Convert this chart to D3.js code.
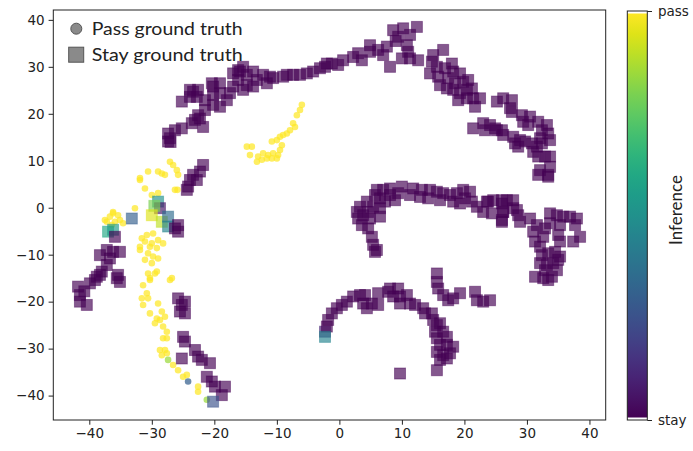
<!DOCTYPE html>
<html>
<head>
<meta charset="utf-8">
<script src="https://cdn.jsdelivr.net/npm/d3@7"></script>
<style>
  html, body { margin: 0; padding: 0; background: #fff; }
  svg { display: block; }
</style>
</head>
<body>
<svg id="chart" width="693" height="451"></svg>
<script>
// [x, y, inference] ; inference 0 = stay, 1 = pass
const stayPoints = [
  // upper arc
  [-27.1,14.8,0],[-27.4,15.8,0],[-26.3,16.5,0],[-25.2,16.9,0],[-27.0,14.0,0],[-27.4,14.1,0],[-23.6,18.0,0],[-23.1,18.7,0],
  [-21.8,17.2,0],[-22.6,19.7,0],[-22.3,19.0,0],[-21.5,20.8,0],[-20.2,21.9,0],[-19.1,21.5,0],[-18.0,22.9,0],[-17.5,24.4,0],
  [-17.0,25.8,0],[-16.2,27.2,0],[-15.9,29.0,0],[-15.4,30.0,0],[-17.0,28.6,0],[-25.2,22.6,0],[-23.9,23.6,0],[-22.6,25.1,0],
  [-22.8,23.6,0],[-21.5,22.9,0],[-20.4,26.5,0],[-19.1,26.5,0],[-19.1,24.4,0],[-20.2,24.0,0],[-23.9,25.1,0],[-23.4,24.7,0],
  [-20.2,25.8,0],[-14.8,26.1,0],[-14.8,28.3,0],[-13.8,29.0,0],[-13.2,27.2,0],[-12.2,28.3,0],[-11.1,27.9,0],[-10.6,27.6,0],
  [-11.6,26.5,0],[-13.8,25.8,0],[-15.4,25.1,0],[-16.2,29.3,0],
  [-8.4,28.3,0],[-7.4,28.3,0],[-6.3,28.3,0],[-5.2,28.6,0],[-4.2,29.0,0],[-3.1,29.7,0],[-2.0,30.7,0],[-9.0,27.9,0],
  [-2.3,30.0,0],[-1.2,30.7,0],[-0.2,30.4,0],[0.6,31.4,0],[2.2,32.1,0],[3.0,32.9,0],[3.6,31.4,0],[4.9,34.6,0],
  [4.9,33.2,0],[6.2,33.6,0],[7.6,34.3,0],[8.1,30.0,0],[7.0,32.5,0],[8.6,37.8,0],[10.2,38.2,0],[12.4,38.5,0],
  [9.4,36.4,0],[11.3,36.8,0],[10.0,31.8,0],[11.0,33.2,0],[11.3,31.8,0],[12.6,31.4,0],[10.8,34.6,0],[9.0,35.5,0],
  [15.0,32.5,0],[16.6,33.6,0],[14.8,31.1,0],[15.6,30.0,0],[14.5,28.6,0],[15.8,27.9,0],[16.9,29.7,0],[18.0,30.7,0],
  [18.2,29.0,0],[19.3,28.6,0],[17.4,27.6,0],[16.1,26.1,0],[17.2,25.4,0],[18.5,26.5,0],[19.8,26.8,0],[20.6,27.2,0],
  [18.2,25.1,0],[19.3,24.4,0],[20.4,25.1,0],[21.2,25.4,0],[19.0,22.9,0],[20.4,23.3,0],[21.4,23.3,0],[22.5,23.3,0],
  [21.7,21.5,0],
  [25.2,22.6,0],[26.2,23.3,0],[27.6,22.9,0],[27.3,21.2,0],[27.6,20.4,0],[29.2,19.7,0],[29.4,18.3,0],[30.5,19.4,0],
  [30.2,17.6,0],[31.8,18.3,0],[33.2,17.6,0],[32.4,16.5,0],[33.4,15.8,0],[33.7,14.4,0],[32.1,14.8,0],[32.4,13.7,0],
  [31.6,13.0,0],[31.0,11.9,0],[31.8,10.9,0],[32.9,10.9,0],[33.7,10.9,0],[32.1,8.0,0],[33.4,7.0,0],[33.7,8.7,0],
  [31.8,7.0,0],[33.4,6.6,0],
  [21.4,16.9,0],[23.0,18.0,0],[24.1,17.6,0],[23.3,16.5,0],[24.9,16.9,0],[26.0,16.5,0],[26.2,15.5,0],[27.8,15.1,0],
  [28.1,13.7,0],[28.9,14.4,0],[29.7,14.1,0],[28.6,13.0,0],[30.8,13.7,0],[25.2,16.5,0],
  // middle arc
  [5.7,-9.4,0],[5.4,-7.9,0],[5.2,-6.2,0],[4.6,-4.4,0],[3.6,-3.7,0],[3.0,-2.3,0],[2.8,-0.9,0],[3.3,0.2,0],
  [4.4,1.3,0],[5.7,2.7,0],[6.0,3.8,0],[7.0,3.8,0],[8.1,4.1,0],[10.0,4.5,0],[9.4,3.1,0],[6.5,2.0,0],
  [5.4,0.2,0],[4.6,-0.9,0],[6.5,-0.1,0],[6.5,-1.9,0],[4.9,-2.3,0],[3.8,-1.6,0],[7.3,1.3,0],[8.9,1.6,0],
  [8.1,2.7,0],[6.0,-9.0,0],
  [11.8,4.1,0],[13.2,3.8,0],[14.5,3.8,0],[15.6,3.4,0],[16.6,3.1,0],[17.7,2.7,0],[18.8,3.1,0],[19.8,3.8,0],
  [20.9,3.4,0],[20.1,2.0,0],[21.2,1.3,0],[22.0,0.2,0],[23.0,-0.9,0],[23.6,1.3,0],[24.6,1.6,0],[26.0,0.9,0],
  [26.2,-0.9,0],[26.0,-3.0,0],[26.8,1.6,0],[27.8,-0.1,0],[11.3,2.7,0],[12.9,2.3,0],[14.2,2.0,0],[16.1,1.6,0],
  [18.2,1.3,0],[19.3,0.9,0],
  [23.8,1.3,0],[26.0,1.6,0],[27.8,1.6,0],[28.4,-0.5,0],[28.6,-1.6,0],[26.2,-0.9,0],[26.0,-2.6,0],[24.4,-1.2,0],
  [30.5,-2.3,0],[31.6,-3.7,0],[31.0,-5.1,0],[31.3,-7.2,0],[32.6,-6.2,0],[32.9,-4.4,0],[33.7,-1.2,0],[34.8,-1.6,0],
  [35.8,-1.9,0],[36.9,-1.9,0],[38.0,-2.3,0],[37.7,-3.7,0],[35.3,-3.7,0],[33.7,-3.3,0],[35.0,-5.8,0],[35.3,-7.2,0],
  [38.5,-6.2,0],[37.4,-7.2,0],[32.4,-10.1,0],[33.4,-9.7,0],[34.5,-9.4,0],[35.3,-10.4,0],[32.1,-11.8,0],[33.2,-12.2,0],
  [34.2,-11.8,0],[35.0,-11.1,0],[32.9,-13.3,0],[31.3,-14.7,0],[32.6,-15.0,0],[34.0,-14.7,0],[34.8,-13.3,0],[28.9,-3.0,0],
  [32.1,-8.3,0],[33.4,-15.4,0],
  // lower arc
  [-2.3,-26.4,0.1],[-2.0,-25.3,0],[-1.8,-23.9,0],[-1.2,-22.5,0],[-0.4,-21.4,0],[0.4,-20.7,0],[1.2,-20.0,0],[2.2,-18.9,0],
  [3.3,-18.6,0],[4.1,-18.6,0],[3.8,-20.4,0],[4.4,-21.4,0],[5.2,-20.4,0],[6.2,-18.2,0],[6.2,-20.7,0],[7.8,-17.9,0],
  [8.1,-17.2,0],[9.4,-17.2,0],[8.6,-18.9,0],[9.7,-18.9,0],[9.7,-20.4,0],[10.8,-18.6,0],[11.3,-20.4,0],[12.1,-20.7,0],
  [13.4,-21.4,0],[13.7,-22.5,0],[14.8,-22.5,0],[15.0,-23.9,0],[15.6,-25.0,0],[16.1,-24.6,0],[15.3,-26.4,0],[16.6,-26.4,0],
  [17.2,-27.5,0],[15.6,-27.8,0],[16.1,-29.2,0],[17.2,-29.2,0],[18.2,-29.6,0],[15.6,-30.7,0],[16.6,-31.4,0],[17.7,-31.0,0],
  [16.1,-32.4,0],[17.2,-32.1,0],[15.6,-34.6,0],[9.7,-35.3,0],[-2.3,-27.5,0.45],
  [15.6,-14.0,0],[15.6,-15.8,0],[15.8,-17.2,0],[16.6,-18.6,0],[17.4,-19.7,0],[18.2,-19.3,0],[19.3,-18.2,0],[21.7,-17.9,0],
  [22.0,-19.7,0],[23.0,-20.0,0],[24.1,-19.7,0],
  // left side
  [-21.8,9.1,0],[-22.3,7.7,0],[-23.4,7.0,0],[-23.9,5.9,0],[-24.2,4.5,0],[-24.4,3.8,0],[-22.8,5.9,0],
  [-29.0,1.3,0.5],[-28.7,-0.1,0.05],[-29.6,0.4,0.8],[-30.0,-1.6,0.95],[-28.4,-3.0,0.9],[-27.4,-1.9,0.35],[-27.4,-4.0,0.45],
  [-26.3,-4.4,0],[-25.8,-5.1,0],[-25.8,-3.7,0],[-33.2,-2.3,0.3],[-37.0,-5.1,0.6],[-36.2,-4.7,0.55],[-35.9,-6.2,0],
  [-38.3,-10.1,0],[-37.2,-9.0,0],[-36.2,-9.4,0],[-35.1,-9.4,0],[-36.7,-10.8,0],[-37.2,-12.2,0],[-38.0,-13.6,0],[-38.8,-14.7,0],
  [-35.4,-14.3,0],[-41.8,-16.8,0],[-41.5,-18.6,0],[-41.5,-20.0,0],[-40.4,-20.7,0],[-39.9,-16.1,0],[-39.1,-15.4,0],[-38.3,-14.3,0],
  [-35.6,-15.0,0],[-35.1,-15.8,0],[-40.8,-17.8,0],
  [-25.8,-19.3,0],[-25.2,-20.7,0],[-24.7,-20.0,0],[-25.5,-22.1,0],[-24.7,-22.5,0],[-25.0,-27.5,0],[-24.7,-28.5,0],[-23.1,-30.3,0],
  [-25.2,-32.1,0],[-22.6,-31.7,0],[-22.0,-32.4,0],[-20.7,-33.1,0],[-21.2,-36.0,0],[-20.4,-37.0,0],[-19.9,-38.1,0],[-18.3,-38.1,0],
  [-18.8,-39.9,0],[-20.2,-41.3,0.25]
];

const passPoints = [
  [-6.0,21.9,1],[-6.3,20.8,1],[-6.8,19.7,1],[-7.4,18.0,1],[-7.1,17.2,1],[-7.9,16.5,1],[-8.4,15.8,1],[-9.0,15.5,1],
  [-9.5,15.1,1],[-10.0,14.4,1],[-10.8,14.1,1],[-9.2,13.3,1],[-9.5,12.3,1],[-9.8,11.2,1],[-10.6,11.6,1],[-11.4,11.2,1],
  [-12.2,11.6,1],[-13.0,10.9,1],[-13.2,9.8,1],[-12.4,10.2,1],[-11.6,10.5,1],[-10.8,10.5,1],[-10.0,10.5,1],[-14.3,11.2,1],
  [-14.8,13.0,1],[-14.0,13.0,1],
  [-31.9,5.9,1],[-30.6,7.7,1],[-31.1,4.1,1],[-30.0,2.7,1],[-29.0,3.1,1],[-29.0,7.7,1],[-28.4,7.3,1],[-27.9,7.0,1],
  [-27.1,9.8,1],[-26.6,9.1,1],[-26.0,8.0,1],[-25.8,7.0,1],[-26.3,3.8,1],[-25.9,3.8,1],[-31.9,6.3,1],
  [-32.7,-0.1,1],[-36.2,-0.9,1],[-35.4,-1.6,1],[-36.7,-1.9,1],[-37.2,-3.0,1],[-35.9,-3.0,1],[-35.1,-2.6,1],[-34.6,-3.3,1],
  [-36.4,-3.7,1],[-37.5,-2.6,1],[-36.2,-1.2,1],
  [-29.8,-5.5,1],[-30.8,-5.8,1],[-31.6,-6.5,1],[-31.1,-7.2,1],[-30.0,-7.6,1],[-29.0,-6.9,1],[-28.2,-7.6,1],[-31.9,-8.3,1],
  [-30.3,-8.3,1],[-29.2,-8.6,1],[-31.9,-9.0,1],[-30.6,-9.7,1],[-29.8,-10.4,1],[-29.0,-10.8,1],[-31.1,-11.1,1],[-30.0,-11.8,1],
  [-30.6,-14.0,1],[-29.2,-13.6,1],[-30.3,-15.0,1],[-26.8,-15.0,1],[-29.5,-14.0,1],[-27.1,-15.4,1],[-30.3,-15.4,1],[-31.4,-16.5,1],
  [-30.8,-18.2,1],[-31.6,-19.3,1],[-30.6,-19.3,1],[-31.4,-20.7,1],[-29.0,-20.4,1],[-30.3,-22.5,1],[-29.2,-23.6,1],[-28.4,-22.1,1],
  [-27.9,-23.2,1],[-28.7,-23.9,1],[-29.5,-24.6,1],[-28.2,-25.3,1],[-27.6,-26.4,1],[-28.2,-27.8,1],[-27.6,-27.8,1],[-28.7,-30.3,1],
  [-27.9,-30.3,1],[-28.4,-31.4,1],[-27.6,-31.0,1],[-27.4,-32.4,0.85],[-26.6,-33.5,1],[-25.8,-34.6,1],[-25.0,-36.0,1],[-24.4,-35.6,1],
  [-24.2,-37.0,0.3],[-22.6,-38.1,1],[-22.6,-39.2,1],[-21.2,-40.9,0.85]
];

const xTicks = [-40, -30, -20, -10, 0, 10, 20, 30, 40];
const yTicks = [-40, -30, -20, -10, 0, 10, 20, 30, 40];
const legendLabels = ["Pass ground truth", "Stay ground truth"];
const colorbarLabels = ["stay", "pass"];

const svg = d3.select("#chart");
const plot = { left: 53.3, right: 605.7, top: 10, bottom: 420 };

const x = d3.scaleLinear().domain([-45.76, 42.6]).range([plot.left, plot.right]);
const y = d3.scaleLinear().domain([-45.2, 42.1]).range([plot.bottom, plot.top]);
const color = d3.scaleSequential(d3.interpolateViridis).domain([0, 1]);

const tickFont = "'DejaVu Sans', sans-serif";
const labelFont = "Lato, 'Noto Sans', sans-serif";

// clip the markers to the axes area
svg.append("clipPath").attr("id", "clip")
  .append("rect")
  .attr("x", plot.left).attr("y", plot.top)
  .attr("width", plot.right - plot.left).attr("height", plot.bottom - plot.top);

const marks = svg.append("g").attr("clip-path", "url(#clip)");

// pass = circles
marks.selectAll("circle.pass")
  .data(passPoints)
  .join("circle")
  .attr("class", "pass")
  .attr("cx", (d) => x(d[0]))
  .attr("cy", (d) => y(d[1]))
  .attr("r", 3.3)
  .attr("fill", (d) => color(d[2]))
  .attr("fill-opacity", 0.72);

// stay = squares
const sq = 11;
marks.selectAll("rect.stay")
  .data(stayPoints)
  .join("rect")
  .attr("class", "stay")
  .attr("x", (d) => x(d[0]) - sq / 2)
  .attr("y", (d) => y(d[1]) - sq / 2)
  .attr("width", sq)
  .attr("height", sq)
  .attr("fill", (d) => color(d[2]))
  .attr("fill-opacity", 0.66)
  .attr("stroke", (d) => color(d[2]))
  .attr("stroke-opacity", 0.45)
  .attr("stroke-width", 1);

// axes
const xAxis = svg.append("g")
  .attr("transform", `translate(0,${plot.bottom})`)
  .call(d3.axisBottom(x).tickValues(xTicks).tickSize(4.7).tickPadding(4));
const yAxis = svg.append("g")
  .attr("transform", `translate(${plot.left},0)`)
  .call(d3.axisLeft(y).tickValues(yTicks).tickSize(4.7).tickPadding(4));

[xAxis, yAxis].forEach((g) => {
  g.select(".domain").remove();
  g.selectAll("line").attr("stroke", "#222").attr("stroke-width", 1);
  g.selectAll("text")
    .attr("fill", "#222")
    .style("font-family", tickFont)
    .style("font-size", "13.5px");
});

svg.append("rect")
  .attr("x", plot.left).attr("y", plot.top)
  .attr("width", plot.right - plot.left).attr("height", plot.bottom - plot.top)
  .attr("fill", "none").attr("stroke", "#222").attr("stroke-width", 1);

// legend
const legend = svg.append("g");
legend.append("circle")
  .attr("cx", 76.3).attr("cy", 28.7).attr("r", 5.5)
  .attr("fill", "#8a8a8a").attr("stroke", "#555").attr("stroke-width", 1);
legend.append("rect")
  .attr("x", 68.7).attr("y", 47.2).attr("width", 15).attr("height", 15)
  .attr("fill", "#8a8a8a").attr("stroke", "#555").attr("stroke-width", 1);
legend.selectAll("text")
  .data(legendLabels)
  .join("text")
  .attr("x", 91.7)
  .attr("y", (d, i) => 34.5 + i * 26.3)
  .attr("textLength", 151)
  .attr("lengthAdjust", "spacingAndGlyphs")
  .style("font-family", labelFont)
  .style("font-size", "17.5px")
  .attr("fill", "#222")
  .text((d) => d);

// colorbar
const cb = { x: 627.3, w: 20, top: 11, bottom: 420 };
const cbScale = d3.scaleLinear().domain([0, 1]).range([cb.bottom, cb.top]);
const defs = svg.append("defs");
const grad = defs.append("linearGradient")
  .attr("id", "viridis")
  .attr("x1", 0).attr("y1", 1).attr("x2", 0).attr("y2", 0);
d3.range(0, 1.0001, 0.05).forEach((t) => {
  grad.append("stop").attr("offset", t).attr("stop-color", color(t));
});
svg.append("rect")
  .attr("x", cb.x).attr("y", cbScale(1) + 2.5)
  .attr("width", cb.w).attr("height", cbScale(0) - cbScale(1) - 5)
  .attr("fill", "url(#viridis)");
svg.append("rect")
  .attr("x", cb.x).attr("y", cb.top)
  .attr("width", cb.w).attr("height", cb.bottom - cb.top)
  .attr("fill", "none").attr("stroke", "#222").attr("stroke-width", 1);

const cbAxis = svg.append("g")
  .attr("transform", `translate(${cb.x + cb.w},0)`)
  .call(d3.axisRight(cbScale).tickValues([0, 1]).tickFormat((d) => colorbarLabels[d]).tickSize(4.7).tickPadding(6));
cbAxis.select(".domain").remove();
cbAxis.selectAll("line").attr("stroke", "#222");
cbAxis.selectAll("text")
  .attr("fill", "#222")
  .style("font-family", tickFont)
  .style("font-size", "13.5px");

svg.append("text")
  .attr("transform", "translate(682,210) rotate(-90)")
  .attr("text-anchor", "middle")
  .style("font-family", labelFont)
  .style("font-size", "17px")
  .attr("fill", "#222")
  .text("Inference");
</script>
</body>
</html>
